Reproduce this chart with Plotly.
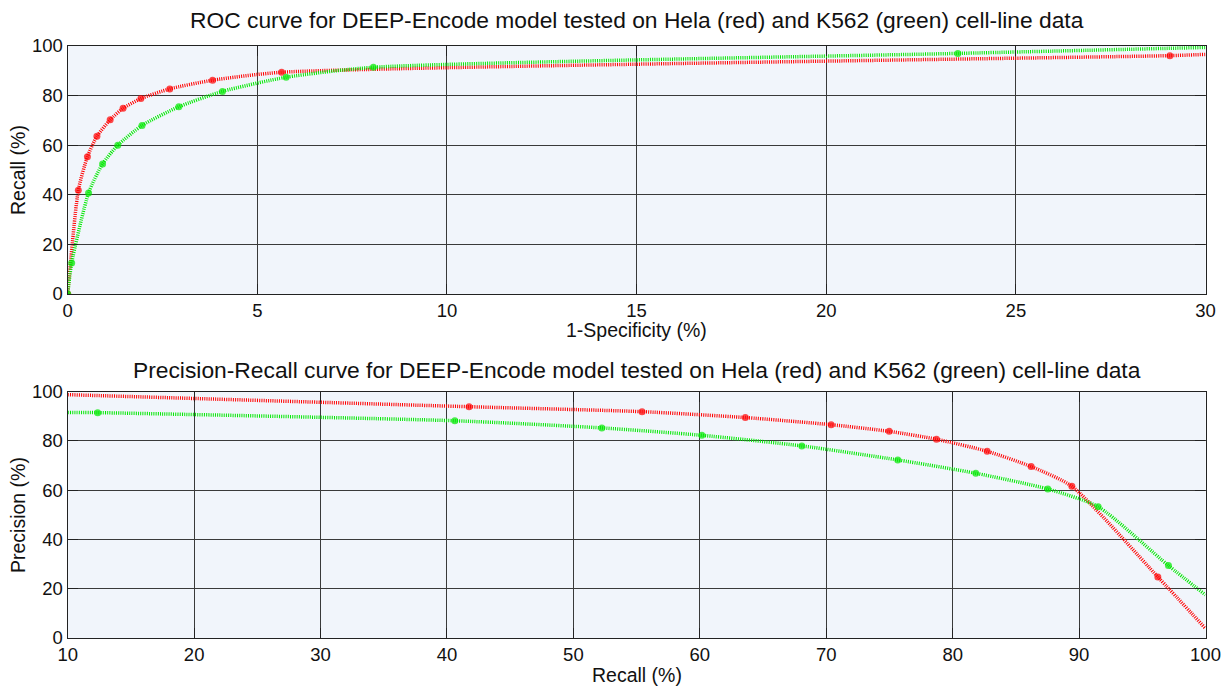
import plotly.graph_objects as go

# ---- ROC data (1-Specificity %, Recall %) ----
roc_hela_x = [0.0, 0.28, 0.52, 0.77, 1.12, 1.46, 1.93, 2.69, 3.82, 5.64, 29.06, 30.0]
roc_hela_y = [0.0, 41.8, 55.3, 63.5, 70.2, 74.8, 78.7, 82.6, 86.1, 89.3, 96.0, 96.5]
roc_hela_marked = [1, 1, 1, 1, 1, 1, 1, 1, 1, 1, 1, 0]

roc_k562_x = [0.0, 0.105, 0.55, 0.92, 1.32, 1.96, 2.93, 4.08, 5.76, 8.06, 23.47, 30.0]
roc_k562_y = [0.0, 12.5, 40.7, 52.4, 59.9, 67.9, 75.4, 81.6, 87.3, 91.3, 96.9, 99.3]
roc_k562_marked = [1, 1, 1, 1, 1, 1, 1, 1, 1, 1, 1, 0]

# ---- Precision-Recall data (Recall %, Precision %) ----
pr_hela_x = [10.0, 41.75, 55.43, 63.6, 70.39, 74.98, 78.72, 82.73, 86.21, 89.43, 96.23, 100.0]
pr_hela_y = [98.8, 93.9, 91.9, 89.5, 86.6, 83.9, 80.7, 75.8, 69.6, 61.6, 24.8, 3.9]
pr_hela_marked = [0, 1, 1, 1, 1, 1, 1, 1, 1, 1, 1, 0]

pr_k562_x = [10.0, 12.37, 40.62, 52.25, 60.16, 68.07, 75.66, 81.83, 87.53, 91.51, 97.07, 100.0]
pr_k562_y = [91.6, 91.5, 88.2, 85.3, 82.3, 78.0, 72.3, 66.9, 60.5, 53.3, 29.4, 17.5]
pr_k562_marked = [0, 1, 1, 1, 1, 1, 1, 1, 1, 1, 1, 0]

roc_ticks_x = [0, 5, 10, 15, 20, 25, 30]
pr_ticks_x = [10, 20, 30, 40, 50, 60, 70, 80, 90, 100]
ticks_y = [0, 20, 40, 60, 80, 100]

title_roc = "ROC curve for DEEP-Encode model tested on Hela (red) and K562 (green) cell-line data"
title_pr = "Precision-Recall curve for DEEP-Encode model tested on Hela (red) and K562 (green) cell-line data"

RED = "#ff0000"
GREEN = "#00e800"
FONT = "Liberation Sans, Arial, Helvetica, sans-serif"

fig = go.Figure()


def add_curve(x, y, marked, color, xa, ya):
    fig.add_trace(go.Scatter(
        x=x, y=y, mode="lines+markers", xaxis=xa, yaxis=ya,
        line=dict(color=color, width=3.5, dash="1px,1.2px", shape="spline", smoothing=0.6),
        marker=dict(color=color, size=[7 if m else 0 for m in marked], line=dict(width=0)),
        opacity=1, showlegend=False, hoverinfo="x+y",
    ))


add_curve(roc_hela_x, roc_hela_y, roc_hela_marked, RED, "x", "y")
add_curve(roc_k562_x, roc_k562_y, roc_k562_marked, GREEN, "x", "y")
add_curve(pr_hela_x, pr_hela_y, pr_hela_marked, RED, "x2", "y2")
add_curve(pr_k562_x, pr_k562_y, pr_k562_marked, GREEN, "x2", "y2")

W, H = 1227, 686
x0, x1 = 67.7 / W, 1205.5 / W
top_dom = [1 - 294 / H, 1 - 45.7 / H]
bot_dom = [1 - 638 / H, 1 - 391.7 / H]

axis_common = dict(
    showline=True, linecolor="#222222", linewidth=1.2, mirror="ticks",
    ticks="inside", ticklen=10, tickcolor="#222222", tickwidth=1,
    showgrid=True, gridcolor="#3a3a3a", gridwidth=1,
    zeroline=False, tickfont=dict(family=FONT, size=18.5, color="#111111"),
    fixedrange=True, automargin=False, ticklabelstandoff=0,
)

fig.update_layout(
    width=W, height=H,
    margin=dict(l=0, r=0, t=0, b=0, autoexpand=False),
    paper_bgcolor="white", plot_bgcolor="#f1f5fb",
    font=dict(family=FONT, color="#111111"),
    xaxis=dict(domain=[x0, x1], range=[0, 30], tickvals=roc_ticks_x, anchor="y", **axis_common),
    yaxis=dict(domain=top_dom, range=[0, 100], tickvals=ticks_y, anchor="x", **axis_common),
    xaxis2=dict(domain=[x0, x1], range=[10, 100], tickvals=pr_ticks_x, anchor="y2", **axis_common),
    yaxis2=dict(domain=bot_dom, range=[0, 100], tickvals=ticks_y, anchor="x2", **axis_common),
)

ann_font = dict(family=FONT, size=22.8, color="#111111")
lab_font = dict(family=FONT, size=19.5, color="#111111")
cx = (67.7 + 1205.5) / 2 / W
fig.add_annotation(text=title_roc, x=cx, y=1 - 20 / H, xref="paper", yref="paper",
                   showarrow=False, font=ann_font, xanchor="center", yanchor="middle")
fig.add_annotation(text=title_pr, x=cx, y=1 - 370 / H, xref="paper", yref="paper",
                   showarrow=False, font=ann_font, xanchor="center", yanchor="middle")
fig.add_annotation(text="1-Specificity (%)", x=cx, y=1 - 330 / H, xref="paper", yref="paper",
                   showarrow=False, font=lab_font, xanchor="center", yanchor="middle")
fig.add_annotation(text="Recall (%)", x=cx, y=1 - 675 / H, xref="paper", yref="paper",
                   showarrow=False, font=lab_font, xanchor="center", yanchor="middle")
fig.add_annotation(text="Recall (%)", x=18 / W, y=1 - 170 / H, xref="paper", yref="paper",
                   showarrow=False, font=lab_font, textangle=-90, xanchor="center", yanchor="middle")
fig.add_annotation(text="Precision (%)", x=18 / W, y=1 - 515 / H, xref="paper", yref="paper",
                   showarrow=False, font=lab_font, textangle=-90, xanchor="center", yanchor="middle")

fig.write_html("out.html")
